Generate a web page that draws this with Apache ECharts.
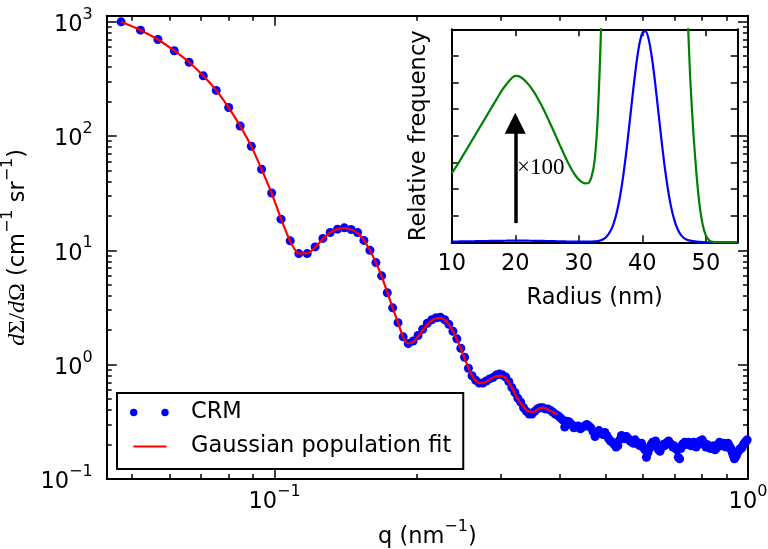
<!DOCTYPE html>
<html><head><meta charset="utf-8">
<script src="https://cdn.jsdelivr.net/npm/echarts@6/dist/echarts.min.js"></script>
<style>html,body{margin:0;padding:0;background:#fff}#c{width:768px;height:549px}</style>
</head><body><div id="c"></div>
<script>
// ---------- main panel data: scattering vector q (nm^-1) ----------
const q = [
0.0474,0.0521,0.0567,0.0614,0.0660,0.0707,0.0753,0.0800,0.0846,0.0893,
0.0939,0.0986,0.1032,0.1079,0.1125,0.1172,0.1218,0.1265,0.1311,0.1358,
0.1404,0.1451,0.1497,0.1544,0.1590,0.1637,0.1683,0.1730,0.1776,0.1823,
0.1869,0.1916,0.1962,0.2009,0.2055,0.2102,0.2148,0.2195,0.2241,0.2288,
0.2334,0.2381,0.2427,0.2474,0.2520,0.2567,0.2613,0.2660,0.2706,0.2753,
0.2799,0.2846,0.2892,0.2939,0.2985,0.3032,0.3078,0.3125,0.3171,0.3218,
0.3264,0.3311,0.3357,0.3404,0.3450,0.3497,0.3543,0.3590,0.3636,0.3683,
0.3729,0.3776,0.3822,0.3869,0.3915,0.3962,0.4008,0.4055,0.4101,0.4148,
0.4194,0.4241,0.4287,0.4334,0.4380,0.4427,0.4473,0.4520,0.4566,0.4613,
0.4659,0.4706,0.4752,0.4799,0.4845,0.4892,0.4938,0.4985,0.5031,0.5078,
0.5124,0.5171,0.5217,0.5264,0.5310,0.5357,0.5403,0.5450,0.5496,0.5543,
0.5589,0.5636,0.5682,0.5729,0.5775,0.5822,0.5868,0.5915,0.5961,0.6008,
0.6054,0.6101,0.6147,0.6194,0.6240,0.6287,0.6333,0.6380,0.6426,0.6473,
0.6519,0.6566,0.6612,0.6659,0.6705,0.6752,0.6798,0.6845,0.6891,0.6938,
0.6984,0.7031,0.7077,0.7124,0.7170,0.7217,0.7263,0.7310,0.7356,0.7403,
0.7449,0.7496,0.7542,0.7589,0.7635,0.7682,0.7728,0.7775,0.7821,0.7868,
0.7914,0.7961,0.8007,0.8054,0.8100,0.8147,0.8193,0.8240,0.8286,0.8333,
0.8379,0.8426,0.8472,0.8519,0.8565,0.8612,0.8658,0.8705,0.8751,0.8798,
0.8844,0.8891,0.8937,0.8984,0.9030,0.9077,0.9123,0.9170,0.9216,0.9263,
0.9309,0.9356,0.9402,0.9449,0.9495,0.9542,0.9588,0.9635,0.9681,0.9728,
0.9774,0.9821,0.9867,0.9914,0.9960];

// CRM measured intensity dΣ/dΩ (cm^-1 sr^-1)
const crm = [
994,841,697,555,441,335,250,177,122,81.3,
51.1,31.7,18.7,12.1,9.36,9.36,10.7,12.7,14.3,15.3,
15.7,15.2,14.3,12.2,10.0,7.8,5.98,4.25,3.14,2.33,
1.75,1.53,1.61,1.80,2.04,2.30,2.47,2.57,2.59,2.47,
2.25,1.96,1.68,1.39,1.16,0.93,0.80,0.73,0.69,0.69,
0.72,0.75,0.77,0.81,0.83,0.81,0.78,0.71,0.63,0.57,
0.51,0.47,0.42,0.39,0.37,0.37,0.39,0.41,0.42,0.42,
0.41,0.41,0.40,0.385,0.37,0.36,0.345,0.33,0.285,0.32,
0.315,0.30,0.28,0.285,0.29,0.275,0.285,0.29,0.30,0.29,
0.28,0.26,0.235,0.25,0.265,0.25,0.245,0.255,0.24,0.225,
0.215,0.21,0.20,0.19,0.195,0.22,0.24,0.235,0.225,0.235,
0.225,0.215,0.21,0.205,0.22,0.21,0.20,0.195,0.205,0.19,
0.18,0.155,0.17,0.185,0.20,0.21,0.20,0.215,0.19,0.18,
0.175,0.19,0.20,0.195,0.205,0.21,0.215,0.205,0.20,0.19,
0.195,0.185,0.18,0.155,0.15,0.185,0.20,0.205,0.21,0.20,
0.205,0.21,0.20,0.195,0.205,0.21,0.20,0.19,0.20,0.205,
0.215,0.21,0.22,0.21,0.20,0.19,0.20,0.19,0.195,0.185,
0.19,0.185,0.195,0.18,0.185,0.19,0.20,0.21,0.205,0.195,
0.20,0.205,0.195,0.19,0.20,0.205,0.195,0.19,0.18,0.17,
0.16,0.15,0.155,0.16,0.17,0.175,0.18,0.185,0.185,0.19,
0.20,0.205,0.21,0.215,0.22];

// Gaussian population fit, at q[0] ... q[75]
const fitI = [
994,841,697,556,441,336,250,177,122,81,
51,31.5,18.9,12.0,9.4,9.4,10.6,12.6,14.3,15.3,
15.6,15.2,14.2,12.2,10.0,7.8,5.95,4.3,3.15,2.33,
1.74,1.53,1.58,1.76,2.0,2.25,2.43,2.54,2.56,2.46,
2.25,1.97,1.67,1.38,1.14,0.94,0.80,0.72,0.69,0.69,
0.71,0.74,0.77,0.79,0.80,0.79,0.76,0.70,0.63,0.56,
0.50,0.46,0.43,0.40,0.39,0.385,0.39,0.405,0.415,0.42,
0.415,0.405,0.395,0.385,0.375,0.365];

// main axes ticks
const qMajor = [0.1, 1];
const qMinor = [0.05,0.06,0.07,0.08,0.09,0.2,0.3,0.4,0.5,0.6,0.7,0.8,0.9];
const iMajor = [0.1, 1, 10, 100, 1000];
const iMinor = [0.2,0.3,0.4,0.5,0.6,0.7,0.8,0.9,2,3,4,5,6,7,8,9,20,30,40,50,60,70,80,90,200,300,400,500,600,700,800,900];

// ---------- inset data: size distribution ----------
const radius = [10,10.5,11,11.5,12,12.5,13,13.5,14,14.5,
15,15.5,16,16.5,17,17.5,18,18.5,19,19.5,
20,20.5,21,21.5,22,22.5,23,23.5,24,24.5,
25,25.5,26,26.5,27,27.5,28,28.5,29,29.5,
30,30.5,31,31.5,32,32.5,33,33.5,34,34.5,
35,35.5,36,36.5,37,37.5,38,38.5,39,39.5,
40,40.5,41,41.5,42,42.5,43,43.5,44,44.5,
45,45.5,46,46.5,47,47.5,48,48.5,49,49.5,
50,50.5,51,51.5,52,52.5,53,53.5,54,54.5,55];
const freqBlue = [0.026,0.028,0.030,0.032,0.034,0.036,0.038,0.040,0.042,0.044,
0.046,0.048,0.050,0.052,0.054,0.056,0.057,0.059,0.061,0.062,
0.063,0.062,0.062,0.061,0.060,0.058,0.056,0.054,0.052,0.050,
0.047,0.045,0.042,0.039,0.037,0.034,0.031,0.029,0.027,0.025,
0.024,0.023,0.022,0.022,0.025,0.032,0.05,0.08,0.14,0.25,
0.43,0.72,1.15,1.74,2.51,3.45,4.51,5.6,6.61,7.4,
7.86,7.93,7.62,6.94,6.01,4.94,3.86,2.86,2.02,1.35,
0.86,0.52,0.30,0.17,0.095,0.063,0.042,0.026,0.014,0.0065,
0.0025,0.0008,0.0002,0,0,0,0,0,0,0,0];
const freqGreen = [2.59,2.77,2.95,3.15,3.35,3.55,3.75,3.95,4.15,4.35,
4.55,4.75,4.95,5.15,5.35,5.55,5.74,5.9,6.05,6.18,
6.25,6.24,6.18,6.08,5.95,5.8,5.62,5.42,5.2,4.97,
4.72,4.46,4.2,3.93,3.66,3.4,3.14,2.9,2.68,2.5,
2.36,2.26,2.21,2.22,2.45,3.1,4.8,8,14,25,
43,72,115,174,251,345,451,560,661,740,
786,793,762,694,601,494,386,286,202,135,
86,52,30,17,9.5,6.3,4.2,2.6,1.4,0.65,
0.25,0.08,0.02,0,0,0,0,0,0,0,0];
const radiusTicks = [10,20,30,40,50];
const freqTicks = [0,1,2,3,4,5,6,7,8];
// annotation: arrow (×100) in inset data coordinates
const arrowX = 20, arrowFrom = 0.72, arrowTo = 4.47;
const arrowText = '×100', arrowTextAt = [20.2, 2.8];

// ---------- chart ----------
const FONT = 'DejaVu Sans';
const BASE = 22.5;
const supRich = {
  b: {fontFamily: FONT, fontSize: BASE, lineHeight: 30, verticalAlign: 'bottom', color: '#000'},
  s: {fontFamily: FONT, fontSize: 16, lineHeight: 10, verticalAlign: 'top', color: '#000'}
};
function powLabel(v) {
  const e = Math.round(Math.log10(v));
  return '{b|10}{s|' + (e < 0 ? '\u2212' + (-e) : e) + '}';
}
function tickAxis(grid, pos, type, min, max, ticks, len, lineShow) {
  return {
    type: type, gridIndex: grid, position: pos, min: min, max: max,
    splitLine: {show: false}, splitArea: {show: false},
    axisLine: {show: lineShow, onZero: false, lineStyle: {color: '#000', width: 2}},
    axisTick: {show: true, inside: true, length: len, customValues: ticks, lineStyle: {color: '#000', width: 1.5}},
    axisLabel: {show: false},
    axisPointer: {show: false}
  };
}
const Q_MIN = 0.0442, Q_MAX = 1, I_MIN = 0.1, I_MAX = 1125;

// x axes: 0-3 main, 4-5 inset
const xMainBottom = tickAxis(0, 'bottom', 'log', Q_MIN, Q_MAX, qMajor, 10, true);
xMainBottom.axisLabel = {show: true, customValues: qMajor, formatter: powLabel, rich: supRich, margin: 5};
xMainBottom.name = '{t|q (nm}{p|\u22121}{t|)}';
xMainBottom.nameLocation = 'middle';
xMainBottom.nameGap = 38;
xMainBottom.nameTextStyle = {rich: {
  t: {fontFamily: FONT, fontSize: BASE, lineHeight: 30, verticalAlign: 'bottom', color: '#000'},
  p: {fontFamily: FONT, fontSize: 16, lineHeight: 10, verticalAlign: 'top', color: '#000'}}};
const xAxes = [
  xMainBottom,
  tickAxis(0, 'bottom', 'log', Q_MIN, Q_MAX, qMinor, 5, false),
  tickAxis(0, 'top', 'log', Q_MIN, Q_MAX, qMajor, 10, true),
  tickAxis(0, 'top', 'log', Q_MIN, Q_MAX, qMinor, 5, false)
];
const xInset = tickAxis(1, 'bottom', 'value', 10, 55, radiusTicks, 7, true);
xInset.axisLabel = {show: true, customValues: radiusTicks, margin: 10, color: '#000', fontFamily: FONT, fontSize: BASE};
xInset.name = 'Radius (nm)';
xInset.nameLocation = 'middle';
xInset.nameGap = 44;
xInset.nameTextStyle = {color: '#000', fontFamily: FONT, fontSize: BASE};
xAxes.push(xInset, tickAxis(1, 'top', 'value', 10, 55, radiusTicks, 7, true));

// y axes: 0-3 main, 4-5 inset
const yMainLeft = tickAxis(0, 'left', 'log', I_MIN, I_MAX, iMajor, 10, true);
yMainLeft.axisLabel = {show: true, customValues: iMajor, formatter: powLabel, rich: supRich, margin: 14};
yMainLeft.name = '{i|d}{g|\u03A3/}{i|d}{g|\u03A9}{t| (cm}{p|\u22121}{t| sr}{p|\u22121}{t|)}';
yMainLeft.nameLocation = 'middle';
yMainLeft.nameGap = 62;
yMainLeft.nameTextStyle = {rich: {
  i: {fontFamily: 'Liberation Serif', fontStyle: 'italic', fontSize: 24, lineHeight: 30, verticalAlign: 'bottom', color: '#000'},
  g: {fontFamily: 'Liberation Serif', fontSize: 24, lineHeight: 30, verticalAlign: 'bottom', color: '#000'},
  t: {fontFamily: FONT, fontSize: BASE, lineHeight: 30, verticalAlign: 'bottom', color: '#000'},
  p: {fontFamily: FONT, fontSize: 16, lineHeight: 10, verticalAlign: 'top', color: '#000'}}};
const yAxes = [
  yMainLeft,
  tickAxis(0, 'left', 'log', I_MIN, I_MAX, iMinor, 5, false),
  tickAxis(0, 'right', 'log', I_MIN, I_MAX, iMajor, 10, true),
  tickAxis(0, 'right', 'log', I_MIN, I_MAX, iMinor, 5, false)
];
const yInset = tickAxis(1, 'left', 'value', 0, 8, freqTicks, 7, true);
yInset.name = 'Relative frequency';
yInset.nameLocation = 'middle';
yInset.nameGap = 21;
yInset.nameTextStyle = {color: '#000', fontFamily: FONT, fontSize: BASE};
yAxes.push(yInset, tickAxis(1, 'right', 'value', 0, 8, freqTicks, 7, true));

const crmData = q.map((v, i) => [v, crm[i]]);
const fitData = fitI.map((v, i) => [q[i], v]);
const blueData = radius.map((r, i) => [r, freqBlue[i]]);
const greenData = radius.map((r, i) => [r, freqGreen[i]]);

const ICON_CRM = 'path://M0,0L0.01,0L0,0.01Z M56,8L55.99,8L56,7.99Z M0,4A3.7,3.7 0 1 0 7.4,4A3.7,3.7 0 1 0 0,4Z M31.3,4A3.7,3.7 0 1 0 38.7,4A3.7,3.7 0 1 0 31.3,4Z';
const ICON_FIT = 'path://M0,0L0.01,0L0,0.01Z M56,8L55.99,8L56,7.99Z M3.3,3L36.7,3L36.7,5L3.3,5Z';

const option = {
  animation: false,
  backgroundColor: '#fff',
  textStyle: {fontFamily: FONT},
  grid: [
    {left: 106.7, top: 15.7, width: 641.3, height: 463.3, containLabel: false, outerBoundsMode: 'none'},
    {left: 451.7, top: 29.3, width: 286, height: 213, containLabel: false, outerBoundsMode: 'none'}
  ],
  xAxis: xAxes,
  yAxis: yAxes,
  legend: {
    show: true, orient: 'vertical', left: 117, top: 393,
    padding: [8, 12, 11, 13], itemGap: 11, itemWidth: 56, itemHeight: 8,
    selectedMode: false, backgroundColor: '#fff', borderColor: '#000', borderWidth: 2, borderRadius: 0,
    itemStyle: {borderWidth: 0},
    textStyle: {color: '#000', fontFamily: FONT, fontSize: BASE},
    data: [{name: 'CRM', icon: ICON_CRM}, {name: 'Gaussian population fit', icon: ICON_FIT}]
  },
  series: [
    {name: 'CRM', type: 'scatter', xAxisIndex: 0, yAxisIndex: 0, data: crmData,
     symbol: 'circle', symbolSize: 9, itemStyle: {color: '#0000ff', opacity: 1}, z: 2, clip: true, silent: true},
    {name: 'Gaussian population fit', type: 'line', xAxisIndex: 0, yAxisIndex: 0, data: fitData,
     symbol: 'none', smooth: 0.25, lineStyle: {color: '#ff0000', width: 2.2}, itemStyle: {color: '#ff0000'}, z: 3, silent: true},
    {name: 'distribution', type: 'line', xAxisIndex: 4, yAxisIndex: 4, data: blueData,
     symbol: 'none', smooth: 0.2, lineStyle: {color: '#0000ff', width: 2.2}, itemStyle: {color: '#0000ff'}, z: 3, clip: true, silent: true},
    {name: 'distribution ×100', type: 'line', xAxisIndex: 4, yAxisIndex: 4, data: greenData,
     symbol: 'none', smooth: 0.2, lineStyle: {color: '#008000', width: 2.2}, itemStyle: {color: '#008000'}, z: 3, clip: true, silent: true,
     markLine: {
       silent: true, symbol: ['none', 'triangle'], symbolSize: 21, animation: false,
       lineStyle: {color: '#000', width: 3.5, type: 'solid'}, itemStyle: {color: '#000'},
       label: {show: false}, emphasis: {disabled: true},
       data: [[{coord: [arrowX, arrowFrom]}, {coord: [arrowX, arrowTo]}]]
     },
     markPoint: {
       silent: true, symbol: 'circle', symbolSize: 1, itemStyle: {color: 'rgba(0,0,0,0)'}, animation: false,
       label: {show: true, position: 'right', distance: 0, formatter: arrowText, color: '#000', fontFamily: 'Liberation Serif', fontSize: 23},
       data: [{coord: arrowTextAt}]
     }}
  ]
};
const chart = echarts.init(document.getElementById('c'), null, {renderer: 'canvas'});
chart.setOption(option);
</script></body></html>
